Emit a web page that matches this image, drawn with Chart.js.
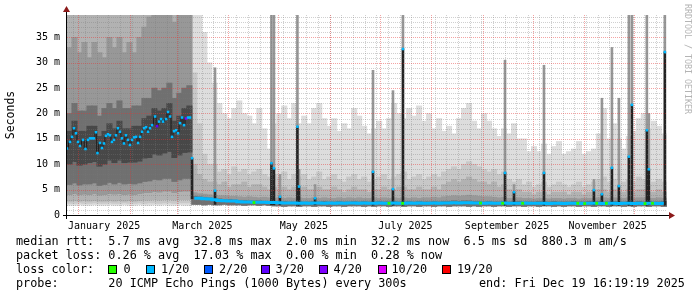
<!DOCTYPE html>
<html>
<head>
<meta charset="utf-8">
<title>Smokeping median RTT – last 360 days</title>
<script src="https://cdn.jsdelivr.net/npm/chart.js@4.4.1/dist/chart.umd.min.js"></script>
<style>
    html, body { margin: 0; padding: 0; background: #fff; }
    #wrap { position: relative; width: 697px; height: 297px; overflow: hidden;
            font-family: "DejaVu Sans Mono", monospace; color: #000; }
    #chart { position: absolute; left: 0; top: 0; }
    .row { position: absolute; left: 16px; font-size: 11.8px; line-height: 14px; white-space: pre; }
    .lbl { position: absolute; font-size: 11.8px; line-height: 14px; white-space: pre; }
    .swatch { position: absolute; width: 9px; height: 9px; box-sizing: border-box; border: 1px solid #000; }
    #credit { position: absolute; left: 683px; top: 4px; writing-mode: vertical-rl;
              font-size: 8.3px; line-height: 9px; color: #b4b4b4; white-space: pre; }
</style>
</head>
<body>
<div id="wrap">
    <canvas id="chart" width="697" height="297"></canvas>
    <div class="row" style="top:234px">median rtt:  5.7 ms avg  32.8 ms max  2.0 ms min  32.2 ms now  6.5 ms sd  880.3 m am/s</div>
    <div class="row" style="top:248px">packet loss: 0.26 % avg  17.03 % max  0.00 % min  0.28 % now</div>
    <div class="row" style="top:262px">loss color:</div>
    <div class="row" style="top:276px">probe:       20 ICMP Echo Pings (1000 Bytes) every 300s</div>
    <div class="lbl" style="top:276px; left:479px">end: Fri Dec 19 16:19:19 2025</div>
    <div id="credit">RRDTOOL / TOBI OETIKER</div>
</div>
<script>
// x = days since 1 Jan 2025, y = milliseconds
// smoke is read in 3-day columns, the first one centred on 26 Dec 2024
const firstBucketDay = -5.3;
const bucketDays = 3;
const offScale = 45; // pings above the top of the graph

// Dec 2024 - early Mar 2025: slow, noisy path (25 columns)
const winterMin  = [1.9,1.9,2.0,1.9,1.9,2.0,1.9,1.9,2.0,1.9,1.9,2.0,1.9,1.9,2.0,1.9,1.9,2.0,1.9,2.0,1.9,1.9,2.0,1.9,1.9];
const winterB2Lo = [2.3,2.3,2.4,2.3,2.3,2.4,2.3,2.3,2.4,2.3,2.3,2.4,2.3,2.3,2.4,2.3,2.4,2.4,2.3,2.4,2.4,2.3,2.4,2.4,2.4];
const winterB3Lo = [2.7,2.8,2.7,2.8,2.7,2.8,2.7,2.7,2.8,2.7,2.8,2.7,2.8,2.7,2.8,2.9,2.9,3.0,2.9,3.0,3.0,2.9,3.0,3.0,3.0];
const winterB4Lo = [4.0,4.2,4.0,4.1,4.0,4.2,3.9,4.0,4.2,4.1,4.2,4.0,4.1,4.0,4.2,4.4,4.4,4.6,4.5,4.7,4.7,4.4,4.6,4.7,4.7];
const winterB4Hi = [33,35,32,34,31,34,32,31,35,33,35,32,34,32,35,37,39,45,40,45,45,38,42,45,45];
const winterB5Lo = [6.0,6.3,5.9,6.1,6.1,6.3,5.8,6.0,6.4,6.1,6.4,6.1,6.2,6.1,6.3,6.6,6.7,7.0,6.9,7.2,7.2,6.6,6.9,7.2,7.2];
const winterB5Hi = [20,22,20.5,20.5,21.5,21.5,19.5,21,22,21,22.5,21,21,21.5,21.5,23,23,25,24.5,25,26,23,24,25,25.5];
const winterB6Lo = [10,10.5,9.8,10,10.3,10.5,9.6,10,10.8,10.3,10.8,10.3,10.4,10.4,10.6,11.2,11.3,12,11.8,12.2,12.5,11.3,11.8,12.3,12.4];
const winterB6Hi = [16.5,18.5,16.5,16.5,17.5,17.5,15.5,16.5,18,17,18.5,17,17,17.5,17.5,19,19.5,21,20.5,21,22,18.5,19.5,21,21.5];

// winter median samples and their loss (of 20 pings)
const winterDays = [-6.8,-5.0,-3.8,-2.6,-1.4,-0.2,1.0,2.8,4.3,5.8,7.0,8.2,9.4,10.6,11.5,13.0,14.2,15.4,16.6,17.8,
    19.0,20.2,21.4,22.6,23.8,25.0,26.2,27.4,28.6,29.8,31.0,32.3,33.5,34.7,35.9,37.1,38.3,39.5,40.7,41.9,
    43.1,44.3,46.1,47.3,48.5,49.7,50.9,52.7,53.9,55.1,56.3,57.5,58.7,59.9,61.1,62.3,63.5,64.7,65.9,67.1];
const winterMed = [13.1,14.4,15.4,17.1,16.1,14.4,13.6,14.8,13.0,14.8,15.1,15.1,15.1,16.3,12.2,14.2,13.2,14.1,15.6,15.9,
    15.7,14.4,14.8,15.7,17.1,16.4,15.1,14.1,15.7,14.8,13.8,14.8,15.3,15.4,14.2,15.4,16.4,17.1,17.3,16.4,
    17.1,17.7,19.4,17.5,18.4,18.9,18.4,18.9,20.3,19.4,15.4,16.5,16.7,16.1,18.1,19.2,17.7,19.0,19.2,19.2];
const winterLoss = [1,1,1,1,1,1,1,1,1,1,1,1,1,1,1,1,1,1,1,1,
    1,1,1,1,1,1,1,1,1,1,1,1,1,1,1,1,1,1,1,1,
    1,1,1,3,1,1,1,1,1,1,1,1,1,1,1,1,1,4,1,1];

// mid Mar - Dec 2025: fast path (95 columns)
const summerMin = [2.1,2.1,2.0,2.1,2.0,2.0,2.1,2.0,2.0,2.0, 1.9,2.0,2.0,1.9,2.0,1.9,1.8,1.8,1.7,1.8,
    1.8,1.7,1.8,1.8,1.7,1.8,1.8,1.7,1.8,1.8, 1.7,1.8,1.8,1.8,1.7,1.8,1.7,1.8,1.8,1.7,
    1.8,1.8,1.7,1.8,1.8,1.7,1.8,1.8,1.7,1.8, 1.8,1.7,1.8,1.8,1.8,1.7,1.8,1.7,1.8,1.8,
    1.7,1.8,1.8,1.7,1.8,1.8,1.7,1.8,1.8,1.7, 1.8,1.8,1.7,1.8,1.7,1.8,1.8,1.7,1.8,1.8,
    1.7,1.8,1.8,1.7,1.8,1.8,1.7,1.8,1.7,1.8, 1.8,1.7,1.8,1.8,1.7];
const summerMax = [40,40,36,30,26,22,20,19,21,22.5, 20,19.5,18,21,17,13,18,20,21.5,19,
    22,18,19.5,18,21,22,19,17.5,19,16.5, 18,17,21,19.5,17.5,16,17,18.5,17,19,
    22,20,19,21,19.5,21.5,18.5,20,17,19, 16.5,17.5,16,19,21,22,18.5,17,20,18.5,
    17,15.5,17,16,18,15,15,12.5,13.5,12.5, 14,12,13.5,14.5,12,12.5,13,14.5,12,12.5,
    13,16,21,15,18,15,13,15.5,16.5,19, 20,17,18.5,17.5,16];
const summerB2 = [28,18,12,10,10,8.5,9,8,9.5,8.5, 9,8,8.5,9,8,7.5,8,7.5,8.5,7,
    8,7.5,8,7,7.5,8.5,7,7.5,8,7, 6.5,7.5,8,7,7.5,6.5,7,7.5,8,7,
    7.5,8,8.5,7,7.5,8,7,7.5,8,7.5, 8.5,9,9.5,9,10,10.5,10,9.5,9,8.5,
    9,8,8.5,7,6.5,7,6,6.5,5.5,6, 6.5,5.5,6,6.5,6,5.5,6,6.5,5.5,6,
    6.5,7,7.5,6.5,7,6,6.5,7,6.5,7.5, 7,6,6.5,7,6.5];
const summerB3 = [10,8,7,6.5,6.5,6,6.5,5.5,6,6, 6.5,5.5,6,6,5.5,5,5.5,5,5.5,5,
    5.5,5,5.5,5,5,5.5,5,5,5.5,5, 4.5,5,5.5,5,5,4.5,5,5,5.5,5,
    5,5.5,5.5,5,5,5.5,5,5,5.5,5, 6,6.5,7,6.5,7,7.5,7,6.5,6.5,6,
    6.5,5.5,6,5,4.5,5,4.5,4.5,4,4.5, 4.5,4,4.5,4.5,4.5,4,4.5,4.5,4,4.5,
    4.5,5,5,4.5,5,4.5,4.5,5,4.5,5, 5,4.5,4.5,5,4.5];
const summerB4 = [4.4,4.2,4.1,4.0,3.9,3.8,3.8,3.7,3.7,3.6, 3.5,3.6,3.5,3.4,3.5,3.4,3.3,3.4,3.3,3.4,
    3.3,3.4,3.3,3.3,3.4,3.3,3.4,3.3,3.3,3.4, 3.3,3.4,3.3,3.4,3.3,3.3,3.4,3.3,3.4,3.3,
    3.4,3.3,3.4,3.3,3.4,3.3,3.4,3.4,3.5,3.4, 3.6,3.7,3.8,3.7,3.8,3.9,3.8,3.7,3.6,3.6,
    3.5,3.4,3.5,3.3,3.3,3.4,3.3,3.3,3.2,3.3, 3.3,3.2,3.3,3.3,3.2,3.3,3.3,3.2,3.3,3.3,
    3.3,3.4,3.4,3.3,3.4,3.3,3.3,3.4,3.3,3.4, 3.4,3.3,3.3,3.4,3.3];
const summerB5 = [3.7,3.6,3.5,3.4,3.3,3.2,3.1,3.1,3.0,2.9, 2.9,2.8,2.8,2.8,2.7,2.7,2.7,2.6,2.7,2.6,
    2.6,2.7,2.6,2.6,2.7,2.6,2.7,2.6,2.6,2.7, 2.6,2.6,2.7,2.6,2.7,2.6,2.6,2.7,2.6,2.6,
    2.7,2.6,2.6,2.7,2.6,2.7,2.6,2.6,2.7,2.6, 2.7,2.7,2.8,2.7,2.8,2.8,2.7,2.7,2.6,2.7,
    2.6,2.6,2.7,2.6,2.6,2.7,2.6,2.6,2.6,2.7, 2.6,2.6,2.7,2.6,2.6,2.6,2.7,2.6,2.6,2.7,
    2.6,2.7,2.6,2.6,2.7,2.6,2.6,2.7,2.6,2.7, 2.6,2.7,2.6,2.6,2.7];
const summerMedian = [3.3,3.3,3.2,3.15,3.0,2.85,2.8,2.75,2.75,2.6, 2.55,2.55,2.5,2.5,2.5,2.45,2.45,2.4,2.35,2.35,
    2.35,2.3,2.35,2.3,2.35,2.35,2.3,2.35,2.3,2.35, 2.3,2.35,2.35,2.3,2.35,2.3,2.3,2.35,2.3,2.3,
    2.35,2.3,2.3,2.35,2.3,2.35,2.3,2.3,2.35,2.3, 2.35,2.35,2.4,2.35,2.4,2.4,2.35,2.35,2.3,2.35,
    2.3,2.3,2.35,2.3,2.3,2.3,2.35,2.3,2.3,2.3, 2.3,2.25,2.3,2.3,2.25,2.3,2.3,2.25,2.3,2.3,
    2.3,2.3,2.25,2.3,2.3,2.25,2.3,2.3,2.25,2.3, 2.25,2.3,2.3,2.25,2.3];

// short bursts where the median itself jumped
const spikeDays   = [68.3,82.1,116.0,117.5,121.1,131.6,132.6,142.2,177.0,189.0,195.0,256.3,261.7,279.7,309.7,314.5,320.5,324.7,330.7,332.5,341.5,342.7,352.3];
const spikeMin    = [3.2,2.1,2.0,2.0,2.0,1.9,1.9,2.0,1.9,1.9,1.9,1.9,2.0,1.9,2.0,2.0,1.9,1.9,1.9,1.9,1.9,2.0,1.9];
const spikeMedian = [11.2,4.8,10.2,9.2,3.6,17.4,5.6,3.3,8.5,5.1,32.7,8.3,4.5,8.3,4.9,4.1,9.3,5.7,11.5,21.7,16.7,9.0,32.1];
const spikeMax    = [11.2,29,45,45,8,45,9,6,28.5,24.5,45,30.5,6,29.5,7,23,33,23,45,45,45,20,45];

// columns with no loss at all
const greenDays = [105.5,186.6,194.8,241.6,254.9,266.9,300.0,304.2,311.4,317.2,340.4,344.9];
const greenRtt  = [2.45,2.3,2.3,2.35,2.3,2.3,2.3,2.25,2.3,2.3,2.25,2.3];

// axes
const monthLabelDays = [15.5, 74.5, 135.5, 196.5, 257.5, 318];
const monthLabels = ['January 2025', 'March 2025', 'May 2025', 'July 2025', 'September 2025', 'November 2025'];
const monthStartDays = [0, 31, 59, 90, 120, 151, 181, 212, 243, 273, 304, 334];
const firstSunday = -3;
const rttTicks = [0, 5, 10, 15, 20, 25, 30, 35];

const lossSteps  = [0, 1, 2, 3, 4, 10, 19];
const lossColors = ['#26ff00', '#00b8ff', '#0059ff', '#5e00ff', '#7e00ff', '#dd00ff', '#ff0000'];
const smokeColors = ['#dddddd', '#c8c8c8', '#b2b2b2', '#989898', '#707070', '#484848'];

const lossColor = n => lossColors[lossSteps.indexOf(n)];
const dayOf = i => firstBucketDay + i * bucketDays;
const WINTER = winterMin.length;

function bandPoints(wLo, wHi, sHi) {
    const pts = [];
    wLo.forEach((lo, i) => pts.push({ x: dayOf(i), y: [lo, wHi ? wHi[i] : offScale] }));
    if (sHi) sHi.forEach((hi, j) => pts.push({ x: dayOf(WINTER + j), y: [summerMin[j], hi] }));
    return pts;
}

const bands = [
    bandPoints(winterMin, null, summerMax),
    bandPoints(winterB2Lo, null, summerB2),
    bandPoints(winterB3Lo, null, summerB3),
    bandPoints(winterB4Lo, winterB4Hi, summerB4),
    bandPoints(winterB5Lo, winterB5Hi, summerB5),
    bandPoints(winterB6Lo, winterB6Hi, null)
];

const datasets = bands.map((pts, k) => ({
    type: 'bar',
    data: pts,
    backgroundColor: smokeColors[k],
    borderWidth: 0,
    barThickness: 5.4,
    grouped: false,
    order: 100 - k
}));

datasets.push({
    type: 'bar',
    data: spikeDays.map((d, k) => ({ x: d, y: [spikeMedian[k], spikeMax[k]] })),
    backgroundColor: '#969696',
    borderWidth: 0,
    barThickness: 2,
    grouped: false,
    order: 51
});
datasets.push({
    type: 'bar',
    data: spikeDays.map((d, k) => ({ x: d, y: [spikeMin[k], spikeMedian[k]] })),
    backgroundColor: '#232323',
    borderWidth: 0,
    barThickness: 2,
    grouped: false,
    gridOnTop: true,
    order: 50
});

// median lines and loss markers
datasets.push({
    type: 'line',
    data: summerMedian.map((v, j) => ({ x: dayOf(WINTER + j), y: v })),
    borderColor: lossColor(1),
    borderWidth: 3,
    stepped: 'middle',
    pointRadius: 0,
    order: 20
});
datasets.push({
    type: 'line',
    data: winterDays.map((d, k) => ({ x: d, y: winterMed[k] })),
    borderColor: 'rgba(20, 20, 20, 0.85)',
    borderWidth: 1,
    stepped: 'middle',
    pointStyle: 'rect',
    pointRadius: 1.8,
    pointBorderWidth: 0,
    pointBackgroundColor: winterLoss.map(lossColor),
    order: 19
});
datasets.push({
    type: 'line',
    data: spikeDays.map((d, k) => ({ x: d, y: spikeMedian[k] })),
    showLine: false,
    pointStyle: 'rect',
    pointRadius: 1.8,
    pointBorderWidth: 0,
    pointBackgroundColor: lossColor(1),
    order: 18
});
datasets.push({
    type: 'line',
    data: greenDays.map((d, k) => ({ x: d, y: greenRtt[k] })),
    showLine: false,
    pointStyle: 'rect',
    pointRadius: 2,
    pointBorderWidth: 0,
    pointBackgroundColor: lossColor(0),
    order: 17
});

// rrdtool style dotted grid, drawn over the smoke
const rrdGrid = {
    id: 'rrdGrid',
    afterDatasetDraw(chart, args) {
        if (!chart.data.datasets[args.index].gridOnTop) return;
        const { ctx, chartArea: a, scales: { x, y } } = chart;
        const minor = 'rgba(120, 120, 120, 0.35)';
        const major = 'rgba(230, 50, 50, 0.45)';
        const hLine = (v, c) => {
            const py = Math.round(y.getPixelForValue(v)) + 0.5;
            ctx.strokeStyle = c;
            ctx.beginPath(); ctx.moveTo(a.left, py); ctx.lineTo(a.right, py); ctx.stroke();
        };
        const vLine = (d, c) => {
            const px = Math.round(x.getPixelForValue(d)) + 0.5;
            if (px < a.left || px > a.right) return;
            ctx.strokeStyle = c;
            ctx.beginPath(); ctx.moveTo(px, a.top); ctx.lineTo(px, a.bottom); ctx.stroke();
        };
        ctx.save();
        ctx.lineWidth = 1;
        ctx.setLineDash([1, 1]);
        for (let d = firstSunday; d < x.max; d += 7) vLine(d, minor);
        for (let v = 1; v < y.max; v++) if (v % 5) hLine(v, minor);
        monthStartDays.forEach(d => vLine(d, major));
        rttTicks.forEach(v => { if (v > 0) hLine(v, major); });
        ctx.restore();
    }
};

// axis lines with the little red arrows
const rrdAxes = {
    id: 'rrdAxes',
    afterDraw(chart) {
        const { ctx, chartArea: a } = chart;
        ctx.save();
        ctx.fillStyle = '#000';
        ctx.fillRect(a.left - 4, a.bottom, a.right - a.left + 7, 1);
        ctx.fillRect(a.left - 1, a.top - 4, 1, a.bottom - a.top + 8);
        ctx.fillStyle = '#8b1a1a';
        ctx.beginPath();
        ctx.moveTo(a.right + 2, a.bottom - 3);
        ctx.lineTo(a.right + 8, a.bottom + 0.5);
        ctx.lineTo(a.right + 2, a.bottom + 4);
        ctx.fill();
        ctx.beginPath();
        ctx.moveTo(a.left - 4, a.top - 3);
        ctx.lineTo(a.left - 0.5, a.top - 9);
        ctx.lineTo(a.left + 3, a.top - 3);
        ctx.fill();
        ctx.restore();
    }
};

const monoFont = { family: 'DejaVu Sans Mono', size: 10 };

new Chart(document.getElementById('chart'), {
    type: 'bar',
    data: { datasets },
    options: {
        responsive: false,
        animation: false,
        events: [],
        layout: { padding: { left: 0, right: 30, top: 15, bottom: 0 } },
        plugins: { legend: { display: false }, tooltip: { enabled: false } },
        scales: {
            x: {
                type: 'linear',
                offset: false,
                min: -6.8,
                max: 353.6,
                grid: { display: false, drawTicks: false },
                border: { display: false },
                afterBuildTicks: s => { s.ticks = monthLabelDays.map(v => ({ value: v })); },
                afterFit: s => { s.height = 82; },
                ticks: {
                    autoSkip: false,
                    maxRotation: 0,
                    padding: 5,
                    color: '#000',
                    font: monoFont,
                    callback: (v, i) => monthLabels[i]
                }
            },
            y: {
                type: 'linear',
                min: 0,
                max: 39.4,
                grid: { display: false, drawTicks: false },
                border: { display: false },
                afterBuildTicks: s => { s.ticks = rttTicks.map(v => ({ value: v })); },
                afterFit: s => { s.width = 67; },
                ticks: {
                    padding: 7,
                    color: '#000',
                    font: monoFont,
                    callback: v => v === 0 ? '0' : v + ' m'
                },
                title: {
                    display: true,
                    text: 'Seconds',
                    color: '#000',
                    padding: { top: 4, bottom: 0 },
                    font: { family: 'DejaVu Sans Mono', size: 11.5 }
                }
            }
        }
    },
    plugins: [rrdGrid, rrdAxes]
});

// loss colour legend
const wrap = document.getElementById('wrap');
const swatchX = [108, 145.5, 204, 261, 319, 377.5, 442];
const swatchLabelX = [123.5, 161, 219, 275.5, 333.5, 391.5, 457];
lossSteps.forEach((s, k) => {
    const box = document.createElement('div');
    box.className = 'swatch';
    box.style.left = swatchX[k] + 'px';
    box.style.top = '264.5px';
    box.style.background = lossColors[k];
    wrap.appendChild(box);
    const t = document.createElement('div');
    t.className = 'lbl';
    t.style.left = swatchLabelX[k] + 'px';
    t.style.top = '262px';
    t.textContent = s === 0 ? '0' : s + '/20';
    wrap.appendChild(t);
});
</script>
</body>
</html>
